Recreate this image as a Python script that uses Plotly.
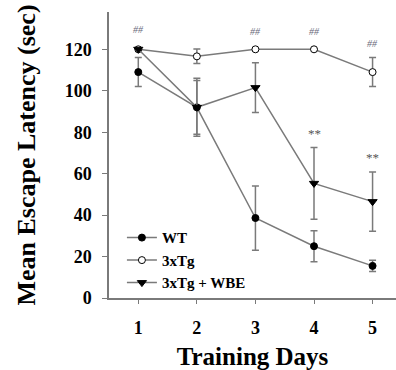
import plotly.graph_objects as go

days = [1, 2, 3, 4, 5]
wt = [109, 92, 38.6, 25, 15.5]
wt_err = [7, 14, 15.5, 7.5, 2.7]
tg = [120, 116.6, 120, 120, 109]
tg_err = [0, 3.5, 0, 0, 7]
wbe = [120, 92, 101.5, 55.3, 46.5]
wbe_err = [0, 13, 12, 17.3, 14.3]

hash_days = [1, 3, 4, 5]
hash_y = [129.5, 128.5, 128.5, 123]
star_days = [4, 5]
star_y = [79.5, 68]

yticks = [0, 20, 40, 60, 80, 100, 120]

LINE = "#7a7a7a"
SERIF = "Liberation Serif, Times New Roman, serif"

fig = go.Figure()

def add(name, y, err, symbol, fill, size):
    fig.add_trace(go.Scatter(
        x=days, y=y, name=f"<b>{name}</b>", mode="lines+markers",
        line=dict(color=LINE, width=1.5),
        marker=dict(symbol=symbol, size=size, color=fill,
                    line=dict(color="black", width=1)),
        error_y=dict(type="data", array=err, visible=True,
                     color=LINE, thickness=1.5, width=3.5),
    ))

add("WT", wt, wt_err, "circle", "black", 7)
add("3xTg", tg, tg_err, "circle", "white", 7)
add("3xTg + WBE", wbe, wbe_err, "triangle-down", "black", 8)

for d, yv in zip(hash_days, hash_y):
    fig.add_annotation(x=d, y=yv, text="<i>##</i>", showarrow=False,
                       font=dict(family=SERIF, size=10, color="#6a6a7a"))
for d, yv in zip(star_days, star_y):
    fig.add_annotation(x=d, y=yv, text="**", showarrow=False,
                       font=dict(family=SERIF, size=13, color="#555"))

fig.update_layout(
    width=396, height=370,
    margin=dict(l=109, r=0, t=12, b=72, autoexpand=False),
    paper_bgcolor="white", plot_bgcolor="white",
    font=dict(family=SERIF, color="black"),
    showlegend=True,
    legend=dict(x=0.045, y=0.268, xanchor="left", yanchor="top",
                bgcolor="rgba(0,0,0,0)", itemwidth=30,
                font=dict(family=SERIF, size=15, color="black"),
                tracegroupgap=0),
    xaxis=dict(range=[0.5, 5.4], tickvals=days, ticktext=[f"<b>{d}</b>" for d in days],
               automargin=False,
               showgrid=False, zeroline=False, showline=True, linecolor=LINE,
               linewidth=1.5, ticks="outside", ticklen=4, tickcolor=LINE,
               ticklabelstandoff=9,
               tickfont=dict(family=SERIF, size=18, color="black"),
               title=dict(text="<b>Training Days</b>", standoff=20,
                          font=dict(family=SERIF, size=25, color="black"))),
    yaxis=dict(range=[0, 138], tickvals=yticks, ticktext=[f"<b>{v}</b>" for v in yticks],
               automargin=False,
               showgrid=False, zeroline=False, showline=True, linecolor=LINE,
               linewidth=1.5, ticks="outside", ticklen=5, tickcolor=LINE,
               ticklabelstandoff=7,
               tickfont=dict(family=SERIF, size=18, color="black"),
               title=dict(text="<b>Mean Escape Latency (sec)</b>", standoff=22,
                          font=dict(family=SERIF, size=26, color="black"))),
)

fig.write_html("out.html", config={"displayModeBar": False},
               post_script="document.body.style.margin='0';document.body.style.overflow='hidden';")
